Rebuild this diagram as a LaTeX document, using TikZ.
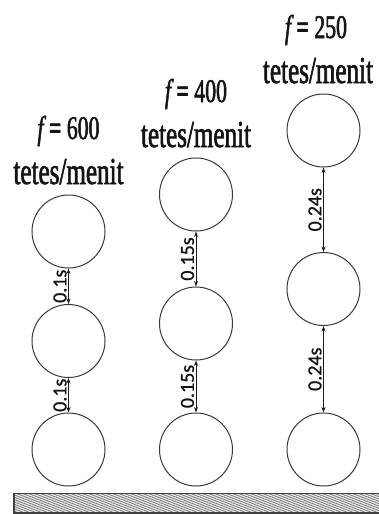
\documentclass[tikz,border=0pt]{standalone}
\usepackage{fontspec}
\usetikzlibrary{arrows.meta}
\newfontfamily\titlefont[FakeStretch=0.66,FakeBold=1.6]{Liberation Serif}
\newfontfamily\lblfont[FakeBold=0.8]{Carlito}
\begin{document}
\begin{tikzpicture}[x=1pt,y=-1pt,
  ball/.style={circle,draw=black!78,line width=1pt,minimum size=73pt,inner sep=0pt},
  gap/.style={{Stealth[length=5.5pt,width=4pt]}-{Stealth[length=5.5pt,width=4pt]},line width=0.9pt,black!90},
  gaplbl/.style={font=\lblfont\fontsize{20}{20}\selectfont,rotate=90,anchor=south,inner sep=1.5pt,text=black!92},
  freq/.style={font=\titlefont\fontsize{33}{33}\selectfont,anchor=base,inner sep=0pt,text=black!92},
  unit/.style={font=\titlefont\fontsize{38}{38}\selectfont,anchor=base,inner sep=0pt,text=black!92}]
\useasboundingbox (0,0) rectangle (379,514);
\fill[white] (0,0) rectangle (379,514);
% column 1
\node[ball] (a1) at (68.5,231.5) {};
\node[ball] (a2) at (68.5,341) {};
\node[ball] (a3) at (68.5,449.5) {};
\node[freq] (fa) at (68.5,139) {{\itshape f} {\bfseries =} 600};
\node[unit] (ua) at (68.5,184) {tetes/menit};
\draw[gap] (a1.south) -- (a2.north) node[midway,gaplbl] {0.1s};
\draw[gap] (a2.south) -- (a3.north) node[midway,gaplbl] {0.1s};
% column 2
\node[ball] (b1) at (196,194.5) {};
\node[ball] (b2) at (196,323.5) {};
\node[ball] (b3) at (196,449.5) {};
\node[freq] (fb) at (196,102) {{\itshape f} {\bfseries =} 400};
\node[unit] (ub) at (196,147) {tetes/menit};
\draw[gap] (b1.south) -- (b2.north) node[midway,gaplbl] {0.15s};
\draw[gap] (b2.south) -- (b3.north) node[midway,gaplbl] {0.15s};
% column 3
\node[ball] (c1) at (323.5,130.5) {};
\node[ball] (c2) at (323.5,289) {};
\node[ball] (c3) at (323.5,449.5) {};
\node[freq] (fc) at (316,38) {{\itshape f} {\bfseries =} 250};
\node[unit] (uc) at (318,83) {tetes/menit};
\draw[gap] (c1.south) -- (c2.north) node[midway,gaplbl] {0.24s};
\draw[gap] (c2.south) -- (c3.north) node[midway,gaplbl] {0.24s};
% ground
\begin{scope}
\clip (14,493.5) rectangle (379,513);
\foreach \i in {-80,-74,...,400} {
  \draw[black!55,line width=0.7pt] (\i,513) -- ++(75,-22);
}
\end{scope}
\draw[black!75,line width=1.3pt] (14,493.5) rectangle (379.5,513);
\end{tikzpicture}
\end{document}
